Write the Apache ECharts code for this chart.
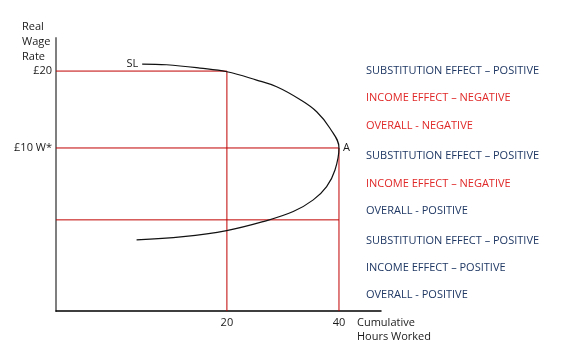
<!DOCTYPE html>
<html>
<head>
<meta charset="utf-8">
<script src="https://cdn.jsdelivr.net/npm/echarts@6/dist/echarts.min.js"></script>
<style>
  html, body { margin: 0; padding: 0; background: #fff; }
  #chart { width: 584px; height: 353px; }
</style>
</head>
<body>
<div id="chart"></div>
<script>
// backward-bending labour supply curve, [hours, wage]
const supplyCurve = [
  [4.88, 20.91], [9.23, 20.82], [15.18, 20.39], [20, 19.91], [25.3, 18.83], [28.88, 17.96],
  [33.04, 16.3], [36.02, 14.71], [38.39, 12.56], [40, 10],
  [39.29, 7.14], [37.8, 4.97], [35.41, 3.25], [31.84, 1.73], [26.48, 0.43],
  [19.95, -0.74], [12.2, -1.52], [3.88, -1.95]
];
const hoursTicks = [20, 40];
const wageTicks = [10, 20];
const wageTickLabels = { 10: "£10 W*", 20: "£20" };
const lowWage = 0.65;

const X_MIN = -10.5, X_MAX = 47.5, Y_MIN = -11.2, Y_MAX = 24.3;

// red guide lines from the axes to the curve
const guides = [
  [[X_MIN, 20], [20, 20], [20, Y_MIN]],
  [[X_MIN, 10], [40, 10], [40, Y_MIN]],
  [[X_MIN, lowWage], [40, lowWage]]
];

const effects = [
  ["SUBSTITUTION EFFECT – POSITIVE", "blue"],
  ["INCOME EFFECT – NEGATIVE", "red"],
  ["OVERALL - NEGATIVE", "red"],
  ["SUBSTITUTION EFFECT – POSITIVE", "blue"],
  ["INCOME EFFECT – NEGATIVE", "red"],
  ["OVERALL - POSITIVE", "blue"],
  ["SUBSTITUTION EFFECT – POSITIVE", "blue"],
  ["INCOME EFFECT – POSITIVE", "blue"],
  ["OVERALL - POSITIVE", "blue"]
];
const effectMids = [73, 100, 128, 158, 186, 213, 243, 270, 297];
const COLORS = { blue: "#1f3864", red: "#e02828" };
const FONT = "'Open Sans', sans-serif";

const chart = echarts.init(document.getElementById("chart"), null, { renderer: "canvas" });

chart.setOption({
  animation: false,
  backgroundColor: "#fff",
  grid: { left: 56, top: 38, width: 325, height: 273 },
  xAxis: {
    type: "value", min: X_MIN, max: X_MAX,
    splitLine: { show: false },
    axisTick: { show: false },
    axisLine: { onZero: false, lineStyle: { color: "#000", width: 1.5 } },
    axisLabel: { customValues: hoursTicks, color: "#1a1a1a", fontSize: 11, fontFamily: FONT, margin: 6 }
  },
  yAxis: {
    type: "value", min: Y_MIN, max: Y_MAX,
    splitLine: { show: false },
    axisTick: { show: false },
    axisLine: { onZero: false, lineStyle: { color: "#7f7f7f", width: 2 } },
    axisLabel: {
      customValues: wageTicks, color: "#1a1a1a", fontSize: 11, fontFamily: FONT, margin: 4,
      formatter: v => wageTickLabels[v] || ""
    }
  },
  series: [
    ...guides.map(g => ({
      type: "line", data: g, symbol: "none", silent: true,
      lineStyle: { color: "#c00000", width: 1 }
    })),
    {
      type: "line", data: supplyCurve, smooth: 0.4, symbol: "none",
      lineStyle: { color: "#111", width: 1.2 },
      markPoint: {
        symbol: "circle", symbolSize: 0,
        data: [
          { coord: supplyCurve[0], label: { show: true, formatter: "SL", position: "left", distance: 4, color: "#1a1a1a", fontSize: 11, fontFamily: FONT } },
          { coord: [40, 10], label: { show: true, formatter: "A", position: "right", distance: 4, color: "#1a1a1a", fontSize: 11, fontFamily: FONT } }
        ]
      }
    }
  ],
  graphic: [
    {
      type: "text", left: 22, top: 19,
      style: { text: "Real\nWage\nRate", font: "11px " + FONT, lineHeight: 15, fill: "#1a1a1a" }
    },
    {
      type: "text", left: 357, top: 316,
      style: { text: "Cumulative\nHours Worked", font: "11px " + FONT, lineHeight: 14, fill: "#1a1a1a" }
    },
    ...effects.map((e, i) => ({
      type: "text", left: 366, top: effectMids[i] - 8,
      style: { text: e[0], font: "11px " + FONT, fill: COLORS[e[1]] }
    }))
  ]
});
</script>
</body>
</html>
